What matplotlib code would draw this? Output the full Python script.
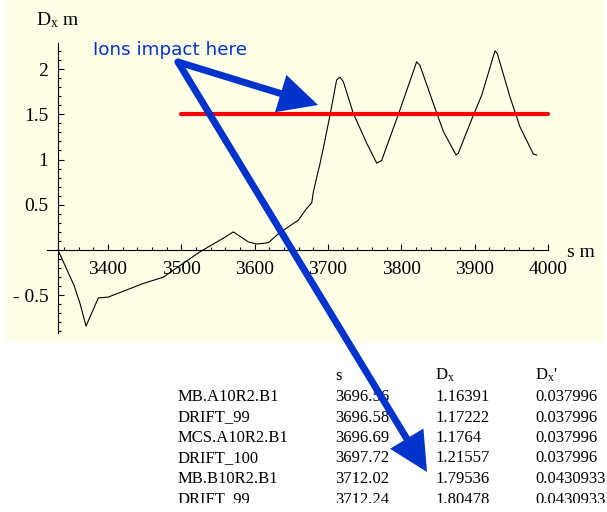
import matplotlib
matplotlib.use("Agg")
import matplotlib.pyplot as plt
from matplotlib.patches import Rectangle
import numpy as np

plt.rcParams['mathtext.fontset'] = 'custom'
plt.rcParams['mathtext.rm'] = 'Liberation Serif'
plt.rcParams['mathtext.it'] = 'Liberation Serif:italic'

# dispersion curve
s = [3331.8, 3353.6, 3361.8, 3370.0, 3386.8, 3400.4, 3448.1, 3475.4, 3525.4,
     3557.2, 3570.9, 3591.3, 3602.8, 3618.6, 3632.3, 3659.5, 3671.0, 3677.8,
     3680.0, 3686.8, 3688.2, 3694.5, 3702.7, 3711.8, 3716.4, 3720.9, 3734.5,
     3752.8, 3766.4, 3773.2, 3798.2, 3820.9, 3825.4, 3843.6, 3857.3, 3874.6,
     3877.7, 3898.2, 3909.6, 3927.7, 3930.9, 3948.2, 3961.8, 3980.0, 3984.6]
Dx = [0.0, -0.39, -0.59, -0.84, -0.53, -0.52, -0.37, -0.30, -0.02,
      0.13, 0.20, 0.09, 0.066, 0.08, 0.18, 0.33, 0.46, 0.52,
      0.64, 0.88, 0.92, 1.16, 1.49, 1.88, 1.91, 1.86, 1.51,
      1.18, 0.96, 0.99, 1.55, 2.08, 2.04, 1.62, 1.31, 1.05,
      1.07, 1.49, 1.71, 2.20, 2.17, 1.69, 1.36, 1.06, 1.05]

limit_s = [3500, 4000]
limit_D = [1.5, 1.5]

xticks = [3400, 3500, 3600, 3700, 3800, 3900, 4000]
yticks = [-0.5, 0.5, 1, 1.5, 2]
ytick_labels = ['- 0.5', '0.5', '1', '1.5', '2']

table_head = ['s', 'D$_{\\rm x}$', "D$_{\\rm x}$'"]
names = ['MB.A10R2.B1', 'DRIFT_99', 'MCS.A10R2.B1', 'DRIFT_100', 'MB.B10R2.B1', 'DRIFT_99']
s_col = ['3696.56', '3696.58', '3696.69', '3697.72', '3712.02', '3712.24']
dx_col = ['1.16391', '1.17222', '1.1764', '1.21557', '1.79536', '1.80478']
dxp_col = ['0.037996', '0.037996', '0.037996', '0.037996', '0.0430933', '0.0430933']

W, H = 607, 512
cream = '#FFFFE8'
blue = '#0033CC'
serif = 'Liberation Serif'

fig = plt.figure(figsize=(W / 100, H / 100), dpi=100)
fig.patch.set_facecolor('white')

# background layer
bg = fig.add_axes([0, 0, 1, 1], zorder=0)
bg.set_xlim(0, W)
bg.set_ylim(H, 0)
bg.axis('off')
bg.add_patch(Rectangle((6, 0), 598, 342, facecolor=cream, edgecolor='none'))

# main plot, placed so the axes cross where they do in the picture
x0, sx = 3331.8, 0.7333   # s at origin pixel 58, px per metre
y0, sy = 250, 90.5
L, R, T, B = 20, 600, 25, 345
ax = fig.add_axes([L / W, 1 - B / H, (R - L) / W, (B - T) / H], zorder=1)
ax.set_facecolor('none')
ax.set_xlim(x0 + (L - 58) / sx, x0 + (R - 58) / sx)
ax.set_ylim((y0 - B) / sy, (y0 - T) / sy)

ax.plot(s, Dx, color='black', lw=0.8)
ax.plot(limit_s, limit_D, color='#FF0000', lw=3, solid_capstyle='round')

for side in ['top', 'right']:
    ax.spines[side].set_visible(False)
ax.spines['left'].set_position(('data', x0))
ax.spines['bottom'].set_position(('data', 0))
ax.spines['left'].set_bounds(-0.92, 2.29)
ax.spines['bottom'].set_bounds(3317, 4000)
ax.spines['left'].set_linewidth(0.8)
ax.spines['bottom'].set_linewidth(0.8)

ax.set_xticks(xticks)
ax.set_xticklabels([str(t) for t in xticks], fontfamily=serif, fontsize=14)
ax.set_xticks(np.arange(3340, 4000, 20), minor=True)
ax.set_yticks(yticks)
ax.set_yticklabels(ytick_labels, fontfamily=serif, fontsize=14)
ax.set_yticks(np.arange(-0.9, 2.25, 0.1), minor=True)
ax.tick_params(which='both', direction='in', width=0.8)
ax.tick_params(which='major', length=4)
ax.tick_params(which='minor', length=2)
ax.tick_params(axis='x', pad=8)
ax.tick_params(axis='y', pad=7)

# overlay for labels, table and arrows
ov = fig.add_axes([0, 0, 1, 1], zorder=2)
ov.set_facecolor('none')
ov.set_xlim(0, W)
ov.set_ylim(H, 0)
ov.axis('off')

ov.text(36, 25, 'D$_{\\rm x}$ m', fontfamily=serif, fontsize=14, va='baseline')
ov.text(567, 257, 's m', fontfamily=serif, fontsize=14, va='baseline')

cols = [335, 435, 535]
for x, h in zip(cols, table_head):
    ov.text(x, 380, h, fontfamily=serif, fontsize=12, va='baseline', zorder=2)
for i in range(len(names)):
    y = 401 + 20.5 * i
    for x, v in zip([178] + cols, [names[i], s_col[i], dx_col[i], dxp_col[i]]):
        ov.text(x, y, v, fontfamily=serif, fontsize=12, va='baseline', zorder=2)
ov.add_patch(Rectangle((0, 502.5), W, 20, facecolor='white', edgecolor='none', zorder=3))

ov.text(93, 55, 'Ions impact here', color=blue, fontfamily='DejaVu Sans', fontsize=13.2,
        va='baseline', zorder=4)
aprops = dict(arrowstyle='-|>,head_length=1.0,head_width=0.5', mutation_scale=20,
              color=blue, lw=5, shrinkA=0, shrinkB=0, joinstyle='miter')
ov.annotate('', xy=(318, 105), xytext=(178, 62), arrowprops=aprops, zorder=5)
ov.annotate('', xy=(427, 472), xytext=(178, 62), arrowprops=aprops, zorder=5)

fig.savefig('out.png', dpi=100)
